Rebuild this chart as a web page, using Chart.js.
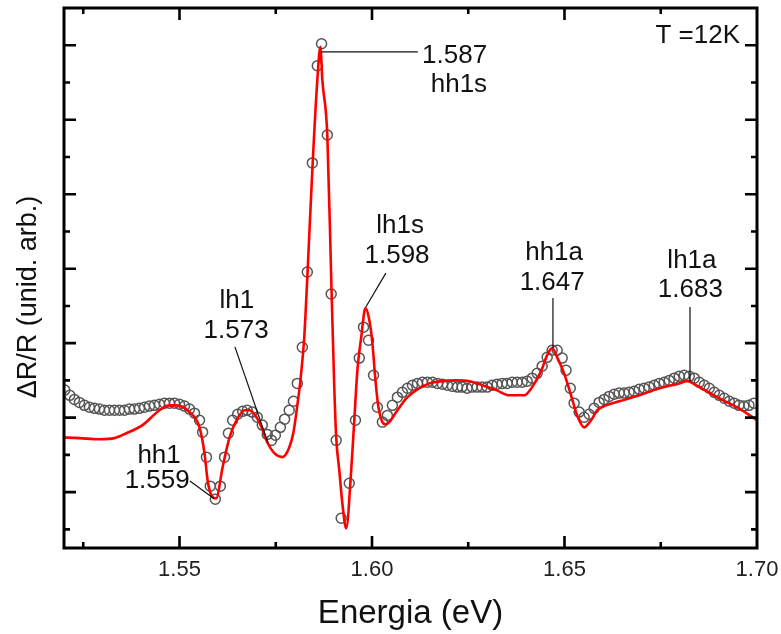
<!DOCTYPE html>
<html>
<head>
<meta charset="utf-8">
<script src="https://cdn.jsdelivr.net/npm/chart.js@4.4.1/dist/chart.umd.min.js"></script>
<style>
  html, body { margin: 0; padding: 0; background: #fff; }
  canvas { display: block; }
</style>
</head>
<body>
<canvas id="grafico" width="781" height="634"></canvas>
<script>
// puntos experimentales (circulos)
const energiaExp = [
  1.5202, 1.5215, 1.5227, 1.5240, 1.5253, 1.5266, 1.5279, 1.5292, 1.5305, 1.5318,
  1.5331, 1.5344, 1.5357, 1.5370, 1.5383, 1.5396, 1.5409, 1.5422, 1.5435, 1.5448,
  1.5461, 1.5474, 1.5487, 1.5500, 1.5513, 1.5526, 1.5539, 1.5552, 1.5560, 1.5570,
  1.5580, 1.5593, 1.5606, 1.5617, 1.5627, 1.5638, 1.5651, 1.5664, 1.5676, 1.5689,
  1.5702, 1.5715, 1.5728, 1.5739, 1.5749, 1.5762, 1.5773, 1.5785, 1.5796, 1.5806,
  1.5819, 1.5832, 1.5845, 1.5858, 1.5869, 1.5884, 1.5894, 1.5907, 1.5920, 1.5941,
  1.5957, 1.5967, 1.5978, 1.5991, 1.6004, 1.6014, 1.6027, 1.6040, 1.6053, 1.6066,
  1.6079, 1.6092, 1.6105, 1.6118, 1.6131, 1.6144, 1.6157, 1.6170, 1.6183, 1.6196,
  1.6209, 1.6222, 1.6234, 1.6247, 1.6260, 1.6273, 1.6286, 1.6299, 1.6312, 1.6325,
  1.6338, 1.6351, 1.6364, 1.6377, 1.6390, 1.6403, 1.6416, 1.6429, 1.6442, 1.6455,
  1.6468, 1.6481, 1.6494, 1.6504, 1.6515, 1.6525, 1.6538, 1.6551, 1.6564, 1.6577,
  1.6590, 1.6603, 1.6616, 1.6629, 1.6642, 1.6655, 1.6668, 1.6681, 1.6694, 1.6707,
  1.6720, 1.6733, 1.6746, 1.6759, 1.6772, 1.6785, 1.6798, 1.6811, 1.6824, 1.6837,
  1.6850, 1.6863, 1.6876, 1.6889, 1.6902, 1.6915, 1.6928, 1.6941, 1.6953, 1.6966,
  1.6979, 1.6992
]
const senalExp = [
  4.74, 4.60, 4.49, 4.41, 4.33, 4.28, 4.25, 4.23, 4.20, 4.20,
  4.20, 4.20, 4.20, 4.23, 4.23, 4.25, 4.28, 4.31, 4.33, 4.36,
  4.39, 4.39, 4.39, 4.36, 4.31, 4.23, 4.12, 3.93, 3.61, 2.94,
  2.16, 1.81, 2.16, 2.94, 3.58, 3.93, 4.09, 4.17, 4.20, 4.15,
  4.01, 3.80, 3.55, 3.39, 3.53, 3.74, 3.96, 4.20, 4.44, 4.92,
  5.89, 7.91, 10.84, 13.45, 14.04, 11.59, 7.32, 3.39, 1.30, 2.24,
  3.93, 5.60, 6.43, 6.08, 5.14, 4.28, 3.88, 4.06, 4.33, 4.55,
  4.68, 4.79, 4.87, 4.92, 4.95, 4.95, 4.95, 4.92, 4.90, 4.87,
  4.84, 4.82, 4.82, 4.79, 4.82, 4.82, 4.82, 4.82, 4.87, 4.90,
  4.92, 4.92, 4.95, 4.95, 4.95, 4.98, 5.06, 5.19, 5.38, 5.62,
  5.81, 5.81, 5.60, 5.27, 4.79, 4.39, 4.15, 4.01, 4.09, 4.25,
  4.41, 4.49, 4.57, 4.63, 4.66, 4.66, 4.68, 4.71, 4.76, 4.79,
  4.82, 4.87, 4.92, 4.95, 5.00, 5.06, 5.11, 5.14, 5.11, 5.06,
  4.95, 4.87, 4.79, 4.68, 4.60, 4.52, 4.44, 4.39, 4.33, 4.31,
  4.33, 4.39
]

// curva de ajuste (linea roja)
const energiaAjuste = [
  1.5196, 1.5240, 1.5292, 1.5331, 1.5362, 1.5404, 1.5448, 1.5474, 1.5492, 1.5526,
  1.5552, 1.5565, 1.5573, 1.5583, 1.5595, 1.5612, 1.5630, 1.5648, 1.5669, 1.5682,
  1.5700, 1.5713, 1.5728, 1.5747, 1.5767, 1.5785, 1.5796, 1.5806, 1.5814, 1.5824,
  1.5832, 1.5845, 1.5858, 1.5866, 1.5871, 1.5884, 1.5894, 1.5902, 1.5907, 1.5915,
  1.5923, 1.5933, 1.5946, 1.5954, 1.5962, 1.5972, 1.5983, 1.5993, 1.6001, 1.6009,
  1.6016, 1.6027, 1.6035, 1.6045, 1.6063, 1.6089, 1.6115, 1.6149, 1.6183, 1.6219,
  1.6253, 1.6286, 1.6323, 1.6356, 1.6395, 1.6416, 1.6440, 1.6455, 1.6468, 1.6481,
  1.6499, 1.6517, 1.6533, 1.6551, 1.6569, 1.6585, 1.6608, 1.6642, 1.6694, 1.6746,
  1.6798, 1.6818, 1.6850, 1.6902, 1.6953, 1.7000
]
const senalAjuste = [
  3.47, 3.45, 3.42, 3.45, 3.58, 3.80, 4.20, 4.33, 4.33, 4.15,
  3.74, 3.04, 2.32, 1.91, 1.83, 2.67, 3.47, 3.93, 4.20, 4.20,
  4.01, 3.74, 3.34, 3.04, 2.94, 3.20, 3.61, 4.33, 5.00, 6.16,
  7.77, 10.65, 13.07, 13.96, 13.07, 11.56, 7.77, 4.82, 3.47, 2.59,
  1.70, 1.03, 2.59, 3.93, 5.27, 6.16, 6.94, 6.62, 6.00, 5.00,
  4.33, 3.88, 3.82, 3.88, 4.15, 4.52, 4.74, 4.92, 4.98, 5.00,
  4.98, 4.87, 4.74, 4.60, 4.60, 4.82, 5.27, 5.68, 5.87, 5.62,
  5.19, 4.60, 4.06, 3.74, 3.93, 4.20, 4.33, 4.44, 4.60, 4.79,
  4.92, 4.98, 4.82, 4.52, 4.25, 3.93
]

// etiquetas de las transiciones: [texto, energia, senal, alineacion]
const etiquetas = [
  ['T =12K', 1.6956, 14.06, 'right'],
  ['1.587', 1.6299, 13.52, 'right'],
  ['hh1s', 1.6299, 12.74, 'right'],
  ['lh1s', 1.6073, 8.96, 'center'],
  ['1.598', 1.6065, 8.15, 'center'],
  ['lh1', 1.5649, 6.94, 'center'],
  ['1.573', 1.5647, 6.14, 'center'],
  ['hh1', 1.5447, 2.78, 'center'],
  ['1.559', 1.5442, 2.11, 'center'],
  ['hh1a', 1.6473, 8.23, 'center'],
  ['1.647', 1.6468, 7.43, 'center'],
  ['lh1a', 1.6831, 8.02, 'center'],
  ['1.683', 1.6827, 7.24, 'center']
]
// lineas guia: [e1, s1, e2, s2]
const guias = [
  [1.5868, 13.82, 1.6119, 13.82],
  [1.5984, 6.97, 1.6036, 7.88],
  [1.5644, 5.90, 1.5730, 3.32],
  [1.5527, 2.30, 1.5590, 1.82],
  [1.6470, 7.21, 1.6470, 5.87],
  [1.6826, 6.97, 1.6826, 4.96]
]

const fuente = 'Liberation Sans, Arial, Helvetica, sans-serif'

const esMayorX = (v) => Math.abs(v * 20 - Math.round(v * 20)) < 1e-6

const marco = {
  id: 'marco',
  afterDatasetsDraw(chart) {
    const { ctx, chartArea: a, scales: { x, y } } = chart
    ctx.save()
    ctx.strokeStyle = '#000'
    ctx.lineWidth = 2.6
    ctx.lineCap = 'butt'

    // marcas hacia adentro
    x.ticks.forEach(t => {
      const px = x.getPixelForValue(t.value)
      if (px < a.left + 3 || px > a.right - 3) return
      const len = esMayorX(t.value) ? 12 : 6
      ctx.beginPath()
      ctx.moveTo(px, a.bottom); ctx.lineTo(px, a.bottom - len)
      ctx.moveTo(px, a.top); ctx.lineTo(px, a.top + len)
      ctx.stroke()
    })
    y.ticks.forEach(t => {
      const py = y.getPixelForValue(t.value)
      if (py < a.top + 3 || py > a.bottom - 3) return
      const len = Math.round(t.value) % 2 === 0 ? 12 : 6
      ctx.beginPath()
      ctx.moveTo(a.left, py); ctx.lineTo(a.left + len, py)
      ctx.moveTo(a.right, py); ctx.lineTo(a.right - len, py)
      ctx.stroke()
    })

    ctx.lineWidth = 3
    ctx.strokeRect(a.left, a.top, a.right - a.left, a.bottom - a.top)

    // lineas guia
    ctx.lineWidth = 1.2
    ctx.strokeStyle = '#111'
    guias.forEach(([e1, s1, e2, s2]) => {
      ctx.beginPath()
      ctx.moveTo(x.getPixelForValue(e1), y.getPixelForValue(s1))
      ctx.lineTo(x.getPixelForValue(e2), y.getPixelForValue(s2))
      ctx.stroke()
    })

    // textos
    ctx.fillStyle = '#111'
    ctx.font = '26px ' + fuente
    ctx.textBaseline = 'alphabetic'
    etiquetas.forEach(([txt, e, s, al]) => {
      ctx.textAlign = al
      ctx.fillText(txt, x.getPixelForValue(e), y.getPixelForValue(s))
    })

    // titulo del eje y
    ctx.save()
    ctx.translate(36, (a.top + a.bottom) / 2 + 19)
    ctx.rotate(-Math.PI / 2)
    ctx.textAlign = 'center'
    ctx.font = '27px ' + fuente
    ctx.fillText('ΔR/R (unid. arb.)', 0, 0)
    ctx.restore()

    ctx.restore()
  }
}

new Chart(document.getElementById('grafico'), {
  type: 'scatter',
  data: {
    datasets: [
      {
        label: 'ajuste',
        data: energiaAjuste.map((e, i) => ({ x: e, y: senalAjuste[i] })),
        showLine: true,
        borderColor: '#ff0000',
        borderWidth: 2.6,
        pointRadius: 0,
        cubicInterpolationMode: 'monotone',
        order: 0
      },
      {
        label: 'experimental',
        data: energiaExp.map((e, i) => ({ x: e, y: senalExp[i] })),
        showLine: false,
        pointStyle: 'circle',
        pointRadius: 5,
        borderWidth: 1.5,
        borderColor: '#555',
        backgroundColor: 'rgba(0,0,0,0)',
        order: 1
      }
    ]
  },
  options: {
    responsive: false,
    animation: false,
    devicePixelRatio: 1,
    layout: { padding: { top: 8, right: 24, bottom: 0, left: 0 } },
    plugins: {
      legend: { display: false },
      tooltip: { enabled: false }
    },
    scales: {
      x: {
        type: 'linear',
        min: 1.52,
        max: 1.70,
        grid: { display: false, drawTicks: false },
        border: { display: false },
        ticks: {
          stepSize: 0.025,
          includeBounds: false,
          autoSkip: false,
          maxRotation: 0,
          padding: 9,
          color: '#222',
          font: { family: fuente, size: 22 },
          callback: (v) => esMayorX(v) ? v.toFixed(2) : ''
        },
        title: {
          display: true,
          text: 'Energia (eV)',
          color: '#111',
          font: { family: fuente, size: 33 },
          padding: { top: 0, bottom: 0 }
        },
        afterFit: (s) => {
          s.height = 86
          s.paddingLeft = 0
          s.paddingRight = 0
        }
      },
      y: {
        type: 'linear',
        min: 0.5,
        max: 15,
        grid: { display: false, drawTicks: false },
        border: { display: false },
        ticks: { display: false, stepSize: 1 },
        afterFit: (s) => { s.width = 64 }
      }
    }
  },
  plugins: [marco]
})
</script>
</body>
</html>
